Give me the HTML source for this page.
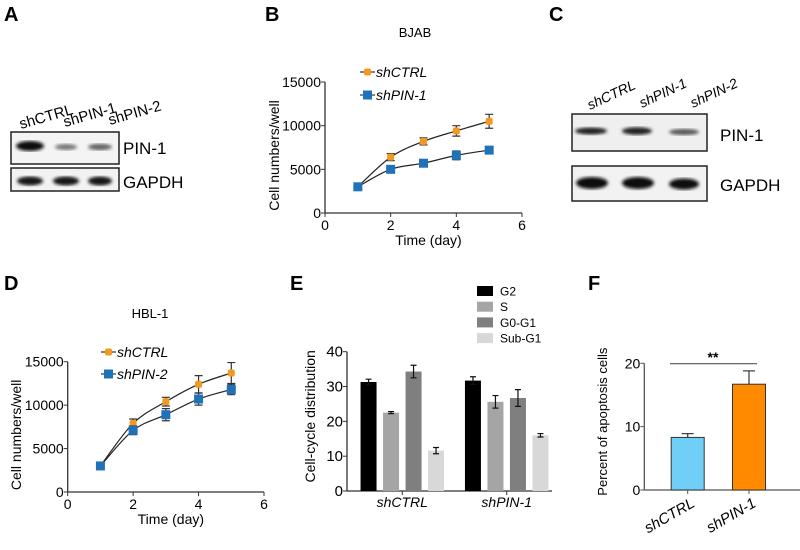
<!DOCTYPE html>
<html><head><meta charset="utf-8"><style>
body{margin:0;background:#fff}
svg text{font-family:"Liberation Sans",Arial,sans-serif}
</style></head><body>
<svg id="fig" width="800" height="545" viewBox="0 0 800 545" xmlns="http://www.w3.org/2000/svg">
<defs>
<filter id="blur1"><feGaussianBlur stdDeviation="1.6"/></filter>
</defs>
<text x="4" y="21" font-size="20" font-weight="bold">A</text>
<text x="265" y="21" font-size="20" font-weight="bold">B</text>
<text x="549" y="21" font-size="20" font-weight="bold">C</text>
<text x="4" y="290" font-size="20" font-weight="bold">D</text>
<text x="290" y="290" font-size="20" font-weight="bold">E</text>
<text x="588" y="290" font-size="20" font-weight="bold">F</text>

<g>
<text transform="translate(21,129) rotate(-16)" font-size="15">shCTRL</text>
<text transform="translate(65,127) rotate(-16)" font-size="15">shPIN-1</text>
<text transform="translate(110,125) rotate(-16)" font-size="15">shPIN-2</text>
<rect x="11" y="132" width="108" height="32" fill="#f4f4f4" stroke="#222" stroke-width="1.5"/>
<ellipse cx="30" cy="146" rx="14" ry="5" fill="#111" filter="url(#blur1)"/>
<ellipse cx="66" cy="147" rx="11" ry="3" fill="#777" filter="url(#blur1)"/>
<ellipse cx="100" cy="147" rx="12" ry="3.2" fill="#666" filter="url(#blur1)"/>
<rect x="11" y="168" width="108" height="23" fill="#f2f2f2" stroke="#222" stroke-width="1.5"/>
<ellipse cx="30" cy="181" rx="13" ry="4.5" fill="#151515" filter="url(#blur1)"/>
<ellipse cx="66" cy="181" rx="13" ry="4.5" fill="#151515" filter="url(#blur1)"/>
<ellipse cx="100" cy="181" rx="12" ry="4.5" fill="#151515" filter="url(#blur1)"/>
<text x="123" y="154" font-size="17">PIN-1</text>
<text x="123" y="188" font-size="17">GAPDH</text>
</g>

<g>
<text transform="translate(590,110) rotate(-25)" font-size="14" font-style="italic">shCTRL</text>
<text transform="translate(642,108) rotate(-25)" font-size="14" font-style="italic">shPIN-1</text>
<text transform="translate(693,108) rotate(-25)" font-size="14" font-style="italic">shPIN-2</text>
<rect x="572" y="114" width="135" height="37" fill="#efefef" stroke="#222" stroke-width="1.5"/>
<ellipse cx="591" cy="131" rx="16" ry="3.5" fill="#222" filter="url(#blur1)"/>
<ellipse cx="637" cy="131" rx="15" ry="3.8" fill="#222" filter="url(#blur1)"/>
<ellipse cx="684" cy="132" rx="15" ry="3" fill="#555" filter="url(#blur1)"/>
<rect x="572" y="166" width="135" height="35" fill="#f2f2f2" stroke="#222" stroke-width="1.5"/>
<ellipse cx="592" cy="183" rx="16" ry="6" fill="#111" filter="url(#blur1)"/>
<ellipse cx="638" cy="183" rx="16" ry="6" fill="#111" filter="url(#blur1)"/>
<ellipse cx="684" cy="184" rx="15" ry="5.5" fill="#111" filter="url(#blur1)"/>
<text x="720" y="141" font-size="17">PIN-1</text>
<text x="720" y="191" font-size="17">GAPDH</text>
</g>
<g id="charts"></g>
</svg>
<script>
const bDays = [1, 2, 3, 4, 5];
const bCtrl = [3000, 6400, 8200, 9400, 10500];
const bCtrlErr = [150, 400, 400, 600, 800];
const bPin = [3000, 5000, 5700, 6600, 7200];
const bPinErr = [150, 400, 400, 500, 400];
const dDays = [1, 2, 3, 4, 5];
const dCtrl = [3000, 7900, 10400, 12400, 13700];
const dCtrlErr = [150, 500, 500, 1000, 1200];
const dPin = [3000, 7100, 8900, 10700, 11800];
const dPinErr = [150, 500, 700, 700, 600];
const lineYTicks = [0, 5000, 10000, 15000];
const lineXTicks = [0, 2, 4, 6];
const eGroups = ["shCTRL", "shPIN-1"];
const ePhases = ["G2", "S", "G0-G1", "Sub-G1"];
const eCtrl = [31.3, 22.5, 34.3, 11.6];
const eCtrlErr = [0.8, 0.3, 1.8, 0.9];
const ePin = [31.7, 25.6, 26.7, 16.0];
const ePinErr = [1.1, 1.8, 2.4, 0.5];
const eYTicks = [0, 10, 20, 30, 40];
const fGroups = ["shCTRL", "shPIN-1"];
const fValues = [8.3, 16.7];
const fErr = [0.6, 2.1];
const fYTicks = [0, 10, 20];

const NS = "http://www.w3.org/2000/svg";
const root = document.getElementById('charts');
function mk(tag, attrs, parent, txt) {
  const e = document.createElementNS(NS, tag);
  for (const k in attrs) e.setAttribute(k, attrs[k]);
  if (txt !== undefined) e.textContent = txt;
  (parent || root).appendChild(e);
  return e;
}
function smoothPath(pts) {
  let d = "M" + pts[0][0] + "," + pts[0][1];
  for (let i = 0; i < pts.length - 1; i++) {
    const p0 = pts[i - 1] || pts[i], p1 = pts[i], p2 = pts[i + 1], p3 = pts[i + 2] || p2;
    const c1x = p1[0] + (p2[0] - p0[0]) / 6, c1y = p1[1] + (p2[1] - p0[1]) / 6;
    const c2x = p2[0] - (p3[0] - p1[0]) / 6, c2y = p2[1] - (p3[1] - p1[1]) / 6;
    d += " C" + c1x + "," + c1y + " " + c2x + "," + c2y + " " + p2[0] + "," + p2[1];
  }
  return d;
}

function lineChart(cfg) {
  const g = mk('g', {});
  
  
  const X = v => cfg.x0 + (cfg.x1 - cfg.x0) * v / 6;
  const Y = v => cfg.y0 - (cfg.y0 - cfg.y15) * v / 15000;
  const ya = mk('line', {x1: X(0), y1: Y(15000), x2: X(0), y2: cfg.y0, stroke: '#333', 'stroke-width': 1.3}, g);
  
  
  const xa = mk('line', {x1: X(0), y1: cfg.y0, x2: X(6), y2: cfg.y0, stroke: '#333', 'stroke-width': 1.3}, g);
  
  
  lineYTicks.forEach(t => {
    mk('line', {x1: X(0) - 4, x2: X(0), y1: Y(t), y2: Y(t), stroke: '#333'}, g);
    const tl = mk('text', {x: X(0) - 4, y: Y(t) + 5, 'font-size': 14, 'text-anchor': 'end'}, g, String(t));
    
    
  });
  lineXTicks.forEach(t => {
    mk('line', {x1: X(t), x2: X(t), y1: cfg.y0, y2: cfg.y0 + 4, stroke: '#333'}, g);
    const tl = mk('text', {x: X(t), y: cfg.y0 + 17, 'font-size': 14, 'text-anchor': 'middle'}, g, String(t));
    
    
  });
  const xt = mk('text', {x: (X(0) + X(6)) / 2 + 5, y: cfg.y0 + 32, 'font-size': 14, 'text-anchor': 'middle'}, g, 'Time (day)');
  
  
  const yt = mk('text', {transform: `translate(${cfg.ylx},${(Y(15000) + cfg.y0) / 2 + 8}) rotate(-90)`, 'font-size': 14, 'text-anchor': 'middle'}, g, 'Cell numbers/well');
  
  
  const tt = mk('text', {x: cfg.tx, y: cfg.ty, 'font-size': 13, 'text-anchor': 'middle'}, g, cfg.title);
  
  
  const series = [
    {vals: cfg.ctrl, err: cfg.ctrlErr, color: '#f39a1e', shape: 'circle', label: 'shCTRL', ly: cfg.ly1},
    {vals: cfg.pin, err: cfg.pinErr, color: '#1f72b8', shape: 'square', label: cfg.pinLabel, ly: cfg.ly2}
  ];
  series.forEach(s => {
    const pts = cfg.days.map((d, i) => [X(d), Y(s.vals[i])]);
    const p = mk('path', {d: smoothPath(pts), fill: 'none', stroke: '#222', 'stroke-width': 1.2}, g);
    
    
  });
  series.forEach(s => {
    cfg.days.forEach((d, i) => {
      const cx = X(d), cy = Y(s.vals[i]);
      const top = Y(s.vals[i] + s.err[i]), bot = Y(s.vals[i] - s.err[i]);
      const eb = mk('path', {d: `M${cx},${top}V${bot}M${cx - 4},${top}H${cx + 4}M${cx - 4},${bot}H${cx + 4}`, stroke: '#333', 'stroke-width': 1.2, fill: 'none'}, g);
      
      
      let m;
      if (s.shape === 'circle') m = mk('rect', {x: cx - 3.5, y: cy - 3.5, width: 7, height: 7, rx: 2, fill: s.color}, g);
      else m = mk('rect', {x: cx - 4.5, y: cy - 4.5, width: 9, height: 9, fill: s.color}, g);
      
      
    });
    const lg = mk('g', {}, g);
    
    
    mk('line', {x1: cfg.lx, x2: cfg.lx + 15, y1: s.ly, y2: s.ly, stroke: '#333', 'stroke-width': 1.2}, lg);
    if (s.shape === 'circle') mk('rect', {x: cfg.lx + 4, y: s.ly - 3.5, width: 7, height: 7, rx: 2, fill: s.color}, lg);
    else mk('rect', {x: cfg.lx + 3, y: s.ly - 4.5, width: 9, height: 9, fill: s.color}, lg);
    mk('text', {x: cfg.lx + 16, y: s.ly + 5, 'font-size': 14, 'font-style': 'italic'}, lg, s.label);
  });
}
lineChart({name: 'growth-chart-bjab', x0: 325, x1: 522, y0: 213, y15: 82, days: bDays, ctrl: bCtrl, ctrlErr: bCtrlErr, pin: bPin, pinErr: bPinErr, pinLabel: 'shPIN-1', title: 'BJAB', tx: 415, ty: 37, ylx: 279, lx: 360, ly1: 72, ly2: 95});
lineChart({name: 'growth-chart-hbl1', x0: 67.7, x1: 264, y0: 492, y15: 361.7, days: dDays, ctrl: dCtrl, ctrlErr: dCtrlErr, pin: dPin, pinErr: dPinErr, pinLabel: 'shPIN-2', title: 'HBL-1', tx: 150, ty: 318, ylx: 21, lx: 101, ly1: 352, ly2: 374});

(function () {
  const g = mk('g', {});
  
  
  const x0 = 347, y0 = 491, y40 = 351.7;
  const Y = v => y0 - (y0 - y40) * v / 40;
  const centers = [402.3, 506.7];
  const colors = ['#000000', '#a5a5a5', '#7f7f7f', '#d8d8d8'];
  const data = [eCtrl, ePin], errs = [eCtrlErr, ePinErr];
  const xa = mk('line', {x1: x0, x2: 552, y1: y0, y2: y0, stroke: '#333', 'stroke-width': 1.3}, g);
  
  
  const ya = mk('line', {x1: x0, x2: x0, y1: y40, y2: y0, stroke: '#333', 'stroke-width': 1.3}, g);
  
  
  eYTicks.forEach(t => {
    mk('line', {x1: x0 - 4, x2: x0, y1: Y(t), y2: Y(t), stroke: '#333'}, g);
    const tl = mk('text', {x: x0 - 4, y: Y(t) + 5, 'font-size': 15, 'text-anchor': 'end'}, g, String(t));
    
    
  });
  const yt = mk('text', {transform: `translate(${315},${(y0 + y40) / 2 - 5}) rotate(-90)`, 'font-size': 14, 'text-anchor': 'middle'}, g, 'Cell-cycle distribution');
  
  
  eGroups.forEach((grp, gi) => {
    const c = centers[gi];
    mk('line', {x1: c, x2: c, y1: y0, y2: y0 + 4, stroke: '#333'}, g);
    const gl = mk('text', {x: c, y: y0 + 16, 'font-size': 14, 'font-style': 'italic', 'text-anchor': 'middle'}, g, grp);
    
    
    ePhases.forEach((ph, i) => {
      const bc = c + (i - 1.5) * 22.5;
      const v = data[gi][i], e = errs[gi][i];
      const b = mk('rect', {x: bc - 8, y: Y(v), width: 16, height: y0 - Y(v), fill: colors[i]}, g);
      
      
      const t = Y(v + e), bt = Y(v - e);
      const eb = mk('path', {d: `M${bc},${t}V${bt}M${bc - 3},${t}H${bc + 3}M${bc - 3},${bt}H${bc + 3}`, stroke: '#111', 'stroke-width': 1.2, fill: 'none'}, g);
      
      
    });
  });
  ePhases.forEach((ph, i) => {
    const ly = 291 + i * 15.7;
    const lg = mk('g', {}, g);
    
    
    mk('rect', {x: 477, y: ly - 5, width: 16, height: 10, fill: colors[i]}, lg);
    mk('text', {x: 500, y: ly + 4.5, 'font-size': 12}, lg, ph);
  });
})();

(function () {
  const g = mk('g', {});
  
  
  const x0 = 644.3, y0 = 490, y20 = 363.3;
  const Y = v => y0 - (y0 - y20) * v / 20;
  const centers = [687.7, 749];
  const colors = ['#70cff6', '#ff8a00'];
  const ya = mk('line', {x1: x0, x2: x0, y1: y20, y2: y0, stroke: '#555', 'stroke-width': 1.3}, g);
  
  
  const xa = mk('line', {x1: x0, x2: 800, y1: y0, y2: y0, stroke: '#555', 'stroke-width': 1.3}, g);
  
  
  fYTicks.forEach(t => {
    mk('line', {x1: x0 - 4, x2: x0, y1: Y(t), y2: Y(t), stroke: '#555'}, g);
    const tl = mk('text', {x: x0 - 4, y: Y(t) + 5, 'font-size': 14, 'text-anchor': 'end'}, g, String(t));
    
    
  });
  const yt = mk('text', {transform: `translate(607,${(y0 + y20) / 2 - 5}) rotate(-90)`, 'font-size': 13, 'text-anchor': 'middle'}, g, 'Percent of apoptosis cells');
  
  
  fGroups.forEach((grp, i) => {
    const c = centers[i], v = fValues[i], e = fErr[i];
    const t = Y(v + e);
    const eb = mk('path', {d: `M${c},${Y(v)}V${t}M${c - 6},${t}H${c + 6}`, stroke: '#444', 'stroke-width': 1.3, fill: 'none'}, g);
    
    
    const b = mk('rect', {x: c - 16.5, y: Y(v), width: 33, height: y0 - Y(v), fill: colors[i], stroke: '#333', 'stroke-width': 1}, g);
    
    
    mk('line', {x1: c, x2: c, y1: y0, y2: y0 + 4, stroke: '#555'}, g);
    const tl = mk('text', {transform: `translate(${c + 8},${y0 + 16}) rotate(-30)`, 'font-size': 15, 'font-style': 'italic', 'text-anchor': 'end'}, g, grp);
    
    
  });
  const sl = mk('line', {x1: 670, x2: 757, y1: 363.7, y2: 363.7, stroke: '#555', 'stroke-width': 1.2}, g);
  
  
  const st = mk('text', {x: 713, y: 362, 'font-size': 14, 'font-weight': 'bold', 'text-anchor': 'middle'}, g, '**');
  
  
})();
</script>
</body></html>
